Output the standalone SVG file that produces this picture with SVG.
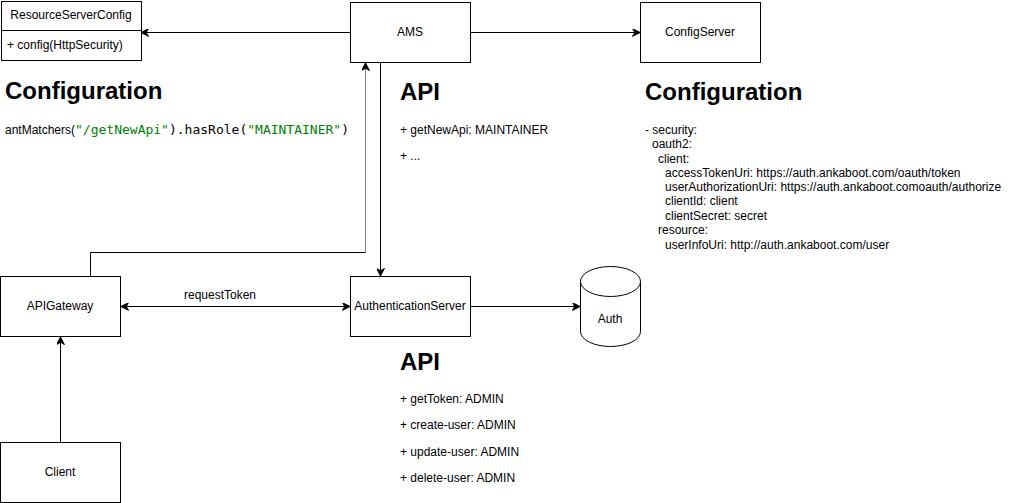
<svg xmlns="http://www.w3.org/2000/svg" width="1031" height="503" viewBox="0 0 1031 503">
<style>
.box{fill:#fff;stroke:#000;stroke-width:1}
.t{font-family:"Liberation Sans",Arial,sans-serif;font-size:12px;fill:#000}
.c{text-anchor:middle}
.h{font-family:"Liberation Sans",Arial,sans-serif;font-size:24px;font-weight:bold;fill:#000}
.m{font-family:"DejaVu Sans Mono",monospace;font-size:13px}
.g{fill:#008000}
.e{fill:none;stroke:#000;stroke-width:1}
</style>
<defs>
<marker id="a" viewBox="0 0 10 10" refX="9" refY="5" markerWidth="8" markerHeight="8" markerUnits="userSpaceOnUse" orient="auto-start-reverse">
<path d="M0,0 L10,5 L0,10 L3,5 Z" fill="#000" stroke="#000"/>
</marker>
</defs>
<g id="connectors">
<path class="e" d="M350.5,32.5 H141.5" marker-end="url(#a)"/>
<path class="e" d="M470.5,32.5 H639.5" marker-end="url(#a)"/>
<path class="e" d="M380.5,62.5 V275.5" marker-end="url(#a)"/>
<path class="e" d="M90.5,276.5 V252.5 H365.5"/>
<path d="M365.5,252.5 V63.5" fill="none" stroke="#808080" stroke-width="1" marker-end="url(#a)"/>
<path class="e" d="M121.5,306.5 H349.5" marker-start="url(#a)" marker-end="url(#a)"/>
<path class="e" d="M470.5,306.5 H579.5" marker-end="url(#a)"/>
<path class="e" d="M60.5,442.5 V337.5" marker-end="url(#a)"/>
<text class="t c" x="220" y="299">requestToken</text>
</g>
<g id="ResourceServerConfig">
<rect class="box" x="1.5" y="1.5" width="140" height="59"/>
<line x1="1.5" y1="30.5" x2="141.5" y2="30.5" stroke="#000"/>
<text class="t c" x="71" y="19">ResourceServerConfig</text>
<text class="t" x="7" y="49">+ config(HttpSecurity)</text>
</g>
<g id="AMS">
<rect class="box" x="350.5" y="2.5" width="120" height="60"/>
<text class="t c" x="410" y="36">AMS</text>
</g>
<g id="ConfigServer">
<rect class="box" x="640.5" y="2.5" width="120" height="60"/>
<text class="t c" x="700" y="36">ConfigServer</text>
</g>
<g id="APIGateway">
<rect class="box" x="0.5" y="276.5" width="120" height="60"/>
<text class="t c" x="60" y="310">APIGateway</text>
</g>
<g id="AuthenticationServer">
<rect class="box" x="350.5" y="276.5" width="120" height="60"/>
<text class="t c" x="410" y="310">AuthenticationServer</text>
</g>
<g id="Auth">
<path class="box" d="M580.5,281.5 A30,15 0 0 1 640.5,281.5 V331.5 A30,15 0 0 1 580.5,331.5 Z"/>
<path class="e" d="M580.5,281.5 A30,15 0 0 0 640.5,281.5"/>
<text class="t c" x="610" y="323">Auth</text>
</g>
<g id="Client">
<rect class="box" x="0.5" y="442.5" width="120" height="60"/>
<text class="t c" x="60" y="476">Client</text>
</g>
<g id="ConfigurationLeft">
<text class="h" x="5" y="99">Configuration</text>
<text class="t" x="5" y="134">antMatchers(<tspan class="m g">"/getNewApi"</tspan><tspan class="m">).hasRole(</tspan><tspan class="m g">"MAINTAINER"</tspan><tspan class="m">)</tspan></text>
</g>
<g id="AMSApi">
<text class="h" x="400" y="100">API</text>
<text class="t" x="400" y="134">+ getNewApi: MAINTAINER</text>
<text class="t" x="400" y="160">+ ...</text>
</g>
<g id="ConfigurationRight">
<text class="h" x="645" y="100">Configuration</text>
<text class="t" x="645" y="134">- security:</text>
<text class="t" x="652" y="148">oauth2:</text>
<text class="t" x="658" y="162.5">client:</text>
<text class="t" x="665" y="176.5">accessTokenUri: https://auth.ankaboot.com/oauth/token</text>
<text class="t" x="665" y="191">userAuthorizationUri: https://auth.ankaboot.comoauth/authorize</text>
<text class="t" x="665" y="205">clientId: client</text>
<text class="t" x="665" y="219.5">clientSecret: secret</text>
<text class="t" x="658" y="234">resource:</text>
<text class="t" x="665" y="248.5">userInfoUri: http://auth.ankaboot.com/user</text>
</g>
<g id="AuthApi">
<text class="h" x="400" y="370">API</text>
<text class="t" x="400" y="403">+ getToken: ADMIN</text>
<text class="t" x="400" y="429">+ create-user: ADMIN</text>
<text class="t" x="400" y="456">+ update-user: ADMIN</text>
<text class="t" x="400" y="482">+ delete-user: ADMIN</text>
</g>
</svg>
